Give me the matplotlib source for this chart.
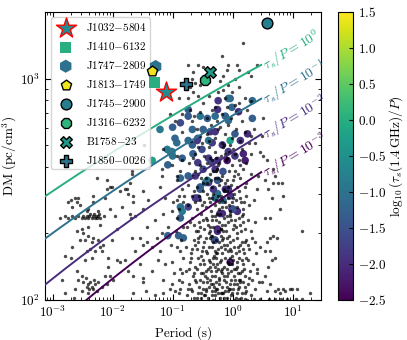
import numpy as np
import matplotlib
matplotlib.use("Agg")
import matplotlib.pyplot as plt
from matplotlib.colors import Normalize
from matplotlib import transforms

plt.rcParams['font.family'] = 'serif'
plt.rcParams['font.serif'] = ['cmr10']
plt.rcParams['mathtext.fontset'] = 'cm'
plt.rcParams['axes.unicode_minus'] = False
plt.rcParams['axes.formatter.use_mathtext'] = True

## background pulsars (log10 P [s], log10 DM)
bg_points = [
    # sparse high-DM part
    (0.17, 3.16), (-0.17, 3.10), (0.41, 3.06), (-0.58, 3.06), (-0.49, 3.05), (-0.74, 3.06),
    (-0.07, 3.06), (0.08, 3.06), (0.10, 3.04), (-0.09, 3.04), (0.04, 3.00), (0.26, 3.03),
    (0.31, 3.01), (-0.21, 2.99), (-0.16, 3.01), (-0.62, 2.98), (-0.54, 2.97), (-0.07, 2.97),
    (-0.71, 2.96), (-0.16, 2.95), (0.10, 2.96), (-0.25, 2.94), (-0.01, 2.94), (-0.66, 2.94),
    (-0.58, 2.92), (-0.40, 2.92), (0.21, 2.91), (-0.12, 2.91), (-0.74, 2.91), (-0.49, 2.89),
    (0.10, 2.89), (0.30, 2.90), (-0.29, 2.87), (0.04, 2.88), (-0.66, 3.03), (-0.67, 3.00),
    (-0.71, 2.86), (-0.84, 2.84), (-0.64, 2.83), (-2.39, 2.73), (-1.68, 2.57), (-2.01, 2.51),
    (-0.90, 2.91),
    # left / middle
    (-1.04, 2.84), (-0.96, 2.81), (-0.84, 2.76), (-1.47, 2.70), (-1.16, 2.68), (-0.93, 2.65),
    (-2.04, 2.63), (-0.84, 2.63), (-1.18, 2.59), (-1.68, 2.58), (-2.26, 2.55), (-2.09, 2.54),
    (-1.18, 2.56), (-0.87, 2.58), (-0.93, 2.54), (-1.71, 2.53), (-0.84, 2.50), (-1.79, 2.50),
    (-1.87, 2.49), (-1.50, 2.49), (-1.21, 2.51), (-2.57, 2.46), (-2.33, 2.47), (-2.12, 2.46),
    (-1.66, 2.47), (-2.70, 2.45), (-2.59, 2.44), (-1.41, 2.45), (-1.13, 2.46), (-0.93, 2.45),
    (-0.90, 2.47), (-0.82, 2.44), (-2.75, 2.44), (-2.62, 2.46), (-2.54, 2.43), (-2.41, 2.41),
    (-2.09, 2.50), (-2.04, 2.51), (-1.76, 2.50), (-1.74, 2.48), (-2.33, 2.44), (-1.66, 2.44),
    (-1.49, 2.41),
    # Terzan 5 streak
    (-2.87, 2.37), (-2.79, 2.38), (-2.74, 2.37), (-2.67, 2.38), (-2.62, 2.37), (-2.57, 2.38),
    (-2.51, 2.37), (-2.49, 2.38), (-2.46, 2.37), (-2.43, 2.38), (-2.41, 2.37), (-2.39, 2.38),
    (-2.37, 2.39), (-2.34, 2.37), (-2.33, 2.38), (-2.31, 2.39), (-2.29, 2.37), (-2.28, 2.38),
    (-2.26, 2.37), (-2.25, 2.38), (-2.23, 2.39), (-2.21, 2.37), (-2.15, 2.38), (-1.96, 2.38),
    (-1.69, 2.37), (-1.62, 2.38),
    # MSPs at low DM
    (-2.67, 2.42), (-2.04, 2.41), (-1.84, 2.42), (-1.71, 2.39), (-2.43, 2.40), (-2.25, 2.40),
    (-2.21, 2.34), (-2.41, 2.33), (-2.51, 2.32), (-2.59, 2.31), (-2.49, 2.30), (-2.41, 2.29),
    (-2.33, 2.28), (-2.54, 2.27), (-2.46, 2.27), (-2.34, 2.26), (-2.25, 2.27), (-2.16, 2.25),
    (-2.21, 2.24), (-2.38, 2.23), (-2.29, 2.22), (-2.18, 2.22), (-2.43, 2.22), (-2.67, 2.24),
    (-2.79, 2.20), (-2.70, 2.19), (-2.46, 2.18), (-2.34, 2.19), (-2.07, 2.19), (-2.01, 2.27),
    (-1.92, 2.32), (-1.68, 2.28), (-1.54, 2.28), (-1.49, 2.25), (-1.42, 2.26), (-1.63, 2.22),
    (-1.34, 2.24), (-1.21, 2.22), (-1.66, 2.11), (-1.50, 2.10), (-1.49, 2.08), (-1.74, 2.13),
    (-1.92, 2.18), (-1.79, 2.18), (-1.87, 2.17), (-2.07, 2.15), (-2.59, 2.13), (-2.51, 2.11),
    (-2.57, 2.09), (-2.49, 2.08), (-2.41, 2.07), (-2.34, 2.06), (-2.29, 2.07), (-2.25, 2.08),
    (-2.43, 2.06), (-2.33, 2.05), (-2.18, 2.06), (-2.09, 2.07), (-2.26, 2.04), (-2.51, 2.04),
    (-2.41, 2.03), (-2.62, 2.05), (-2.79, 2.03), (-2.84, 2.09), (-2.65, 2.01), (-2.04, 2.11),
    (-1.99, 2.09), (-2.12, 2.11), (-2.37, 2.08), (-2.39, 2.05), (-2.31, 2.09), (-2.45, 2.10),
    (-1.26, 2.28), (-1.18, 2.30), (-1.08, 2.33), (-1.29, 2.36), (-1.42, 2.33), (-1.16, 2.39),
    (-1.01, 2.40), (-0.93, 2.37), (-1.24, 2.18), (-1.13, 2.16), (-1.01, 2.17), (-1.34, 2.13),
    (-1.16, 2.09), (-1.01, 2.07), (-0.90, 2.09), (-0.84, 2.12), (-1.66, 2.03), (-1.45, 2.04),
    (-1.29, 2.02), (-1.16, 2.03), (-0.96, 2.04), (-0.87, 2.05), (-1.54, 2.16), (-0.93, 2.24),
    (-0.87, 2.22),
    # long-period side
    (0.51, 2.65), (0.58, 2.63), (0.67, 2.59), (0.71, 2.56), (0.54, 2.54), (0.76, 2.53),
    (0.59, 2.50), (0.66, 2.46), (0.84, 2.47), (0.41, 2.50), (0.43, 2.56), (0.46, 2.67),
    (0.38, 2.71), (0.35, 2.77), (0.30, 2.74), (0.49, 2.74), (0.51, 2.82), (1.16, 2.31),
    (0.54, 2.37), (0.62, 2.37), (0.79, 2.41), (0.67, 2.29), (0.62, 2.28), (0.66, 2.18),
    (0.59, 2.15), (0.54, 2.11), (0.62, 2.07), (0.58, 2.04), (0.71, 2.04), (0.87, 2.04),
    (0.99, 2.05), (0.79, 2.03), (1.29, 2.03), (0.49, 2.08), (0.41, 2.14), (0.46, 2.24),
    (0.38, 2.26), (0.54, 2.22), (0.84, 2.05), (0.76, 2.05), (1.08, 2.05), (0.95, 2.05),
    (0.71, 2.19), (0.62, 2.22), (0.58, 2.26), (0.74, 2.28), (0.82, 2.53), (0.67, 2.53),
    (0.10, 2.005), (0.20, 2.005), (0.35, 2.005), (0.45, 2.005), (0.60, 2.005), (0.70, 2.005),
    (0.80, 2.005), (0.90, 2.005), (1.05, 2.005), (1.16, 2.005),
    # dense core
    (-0.76, 2.02), (-0.72, 2.07), (-0.67, 2.04), (-0.63, 2.09), (-0.60, 2.01), (-0.56, 2.06),
    (-0.52, 2.03), (-0.49, 2.08), (-0.44, 2.05), (-0.41, 2.01), (-0.38, 2.09), (-0.35, 2.04),
    (-0.32, 2.07), (-0.29, 2.02), (-0.26, 2.05), (-0.23, 2.09), (-0.20, 2.03), (-0.17, 2.06),
    (-0.14, 2.01), (-0.11, 2.08), (-0.08, 2.04), (-0.05, 2.07), (-0.02, 2.02), (0.01, 2.05),
    (0.04, 2.09), (0.08, 2.03), (0.11, 2.06), (0.14, 2.01), (0.18, 2.08), (0.22, 2.04),
    (0.26, 2.07), (0.31, 2.02), (0.37, 2.05), (0.44, 2.08),
    (-0.74, 2.05), (-0.65, 2.01), (-0.54, 2.09), (-0.47, 2.02), (-0.39, 2.06), (-0.33, 2.00),
    (-0.27, 2.08), (-0.21, 2.01), (-0.15, 2.09), (-0.09, 2.01), (-0.03, 2.09), (0.03, 2.00),
    (0.10, 2.09), (0.16, 2.03), (0.24, 2.00), (0.33, 2.09), (-0.30, 2.04), (-0.18, 2.03),
    (-0.06, 2.05), (0.07, 2.07), (-0.50, 2.05), (-0.58, 2.03),
    (-0.78, 2.13), (-0.71, 2.17), (-0.66, 2.11), (-0.62, 2.15), (-0.57, 2.19), (-0.53, 2.12),
    (-0.48, 2.16), (-0.43, 2.10), (-0.40, 2.18), (-0.36, 2.13), (-0.33, 2.16), (-0.30, 2.11),
    (-0.27, 2.19), (-0.24, 2.14), (-0.21, 2.17), (-0.18, 2.12), (-0.15, 2.15), (-0.12, 2.19),
    (-0.09, 2.11), (-0.06, 2.16), (-0.03, 2.13), (0.00, 2.18), (0.03, 2.11), (0.07, 2.15),
    (0.10, 2.19), (0.13, 2.12), (0.17, 2.16), (0.21, 2.11), (0.25, 2.18), (0.29, 2.13),
    (0.34, 2.16), (0.40, 2.12),
    (-0.69, 2.19), (-0.59, 2.14), (-0.50, 2.18), (-0.37, 2.15), (-0.28, 2.13), (-0.19, 2.18),
    (-0.10, 2.14), (-0.01, 2.16), (0.09, 2.12), (0.19, 2.14), (0.28, 2.10), (-0.44, 2.13),
    (-0.32, 2.19), (-0.14, 2.11), (-0.04, 2.19), (-0.55, 2.16),
    (-0.77, 2.24), (-0.70, 2.21), (-0.64, 2.27), (-0.59, 2.23), (-0.55, 2.29), (-0.51, 2.22),
    (-0.47, 2.26), (-0.42, 2.21), (-0.38, 2.28), (-0.34, 2.24), (-0.31, 2.20), (-0.27, 2.27),
    (-0.24, 2.23), (-0.20, 2.29), (-0.17, 2.21), (-0.14, 2.25), (-0.10, 2.28), (-0.07, 2.22),
    (-0.04, 2.26), (-0.01, 2.20), (0.03, 2.24), (0.07, 2.28), (0.11, 2.22), (0.15, 2.26),
    (0.19, 2.21), (0.23, 2.27), (0.28, 2.23), (0.33, 2.28), (0.39, 2.21),
    (-0.62, 2.25), (-0.53, 2.20), (-0.40, 2.24), (-0.29, 2.22), (-0.22, 2.26), (-0.12, 2.23),
    (0.01, 2.27), (0.13, 2.25), (0.25, 2.25), (-0.36, 2.29), (-0.16, 2.28), (-0.05, 2.23),
    (-0.76, 2.33), (-0.68, 2.37), (-0.61, 2.31), (-0.56, 2.35), (-0.52, 2.39), (-0.48, 2.32),
    (-0.43, 2.36), (-0.39, 2.30), (-0.35, 2.38), (-0.32, 2.33), (-0.28, 2.36), (-0.25, 2.31),
    (-0.21, 2.39), (-0.18, 2.34), (-0.14, 2.37), (-0.11, 2.31), (-0.07, 2.35), (-0.04, 2.39),
    (0.00, 2.32), (0.04, 2.36), (0.08, 2.30), (0.12, 2.34), (0.16, 2.38), (0.20, 2.32),
    (0.25, 2.36), (0.31, 2.31), (0.37, 2.35),
    (-0.65, 2.34), (-0.50, 2.36), (-0.37, 2.33), (-0.23, 2.35), (-0.09, 2.38), (0.02, 2.34),
    (0.14, 2.31), (-0.30, 2.38), (-0.16, 2.31),
    (-0.75, 2.43), (-0.67, 2.47), (-0.60, 2.41), (-0.54, 2.45), (-0.49, 2.49), (-0.44, 2.42),
    (-0.40, 2.46), (-0.36, 2.40), (-0.32, 2.48), (-0.29, 2.43), (-0.25, 2.47), (-0.22, 2.41),
    (-0.18, 2.45), (-0.15, 2.49), (-0.11, 2.42), (-0.08, 2.46), (-0.04, 2.40), (-0.01, 2.44),
    (0.03, 2.48), (0.08, 2.42), (0.12, 2.46), (0.17, 2.41), (0.22, 2.47), (0.28, 2.43),
    (0.35, 2.45),
    (-0.63, 2.44), (-0.51, 2.43), (-0.38, 2.44), (-0.27, 2.45), (-0.13, 2.44), (0.01, 2.46),
    (0.14, 2.44),
    (-0.74, 2.52), (-0.66, 2.56), (-0.59, 2.51), (-0.53, 2.55), (-0.48, 2.59), (-0.42, 2.53),
    (-0.38, 2.57), (-0.34, 2.51), (-0.30, 2.55), (-0.26, 2.59), (-0.22, 2.52), (-0.18, 2.56),
    (-0.14, 2.50), (-0.10, 2.54), (-0.06, 2.58), (-0.02, 2.52), (0.02, 2.56), (0.07, 2.51),
    (0.12, 2.55), (0.17, 2.59), (0.23, 2.53), (0.30, 2.57),
    (-0.62, 2.58), (-0.45, 2.55), (-0.32, 2.58), (-0.20, 2.54), (-0.08, 2.51), (0.04, 2.58),
    (0.20, 2.51),
    (-0.72, 2.62), (-0.62, 2.66), (-0.54, 2.61), (-0.47, 2.65), (-0.40, 2.69), (-0.35, 2.63),
    (-0.30, 2.67), (-0.25, 2.61), (-0.20, 2.65), (-0.16, 2.69), (-0.11, 2.63), (-0.06, 2.67),
    (-0.01, 2.61), (0.04, 2.66), (0.10, 2.63), (0.16, 2.68), (0.23, 2.62), (0.30, 2.66),
    (-0.58, 2.69), (-0.43, 2.62), (-0.27, 2.64), (-0.13, 2.66), (0.01, 2.68), (0.13, 2.61),
    (-0.70, 2.72), (-0.60, 2.77), (-0.51, 2.71), (-0.43, 2.75), (-0.36, 2.79), (-0.30, 2.73),
    (-0.24, 2.77), (-0.18, 2.71), (-0.12, 2.75), (-0.07, 2.79), (-0.01, 2.73), (0.06, 2.77),
    (0.13, 2.72), (0.20, 2.76), (0.27, 2.71),
    (-0.55, 2.74), (-0.39, 2.72), (-0.21, 2.78), (-0.04, 2.70),
    (-0.67, 2.81), (-0.54, 2.85), (-0.43, 2.82), (-0.34, 2.86), (-0.26, 2.81), (-0.18, 2.84),
    (-0.10, 2.87), (-0.02, 2.82), (0.07, 2.85), (0.16, 2.81), (0.24, 2.86),
    (-0.90, 2.03), (-0.85, 2.08), (-0.88, 2.14), (-0.82, 2.19), (-0.86, 2.27), (-0.83, 2.33),
    (-0.89, 2.41), (-0.81, 2.47), (-0.98, 2.12), (-1.03, 2.25), (-0.95, 2.31), (-1.05, 2.05),
    (-0.99, 2.44), (-0.92, 2.56), (-1.01, 2.61),
    (-0.52, 2.01), (-0.45, 2.04), (-0.42, 2.08), (-0.34, 2.02), (-0.31, 2.06), (-0.25, 2.03),
    (-0.22, 2.07), (-0.13, 2.04), (-0.10, 2.06), (-0.01, 2.03), (0.02, 2.07), (0.09, 2.05),
    (0.13, 2.08), (0.20, 2.06),
    (-0.49, 2.12), (-0.41, 2.14), (-0.35, 2.11), (-0.26, 2.16), (-0.23, 2.10), (-0.17, 2.14),
    (-0.07, 2.12), (0.02, 2.14), (0.15, 2.18), (0.08, 2.17),
    (-0.49, 2.24), (-0.44, 2.28), (-0.33, 2.26), (-0.26, 2.21), (-0.19, 2.24), (-0.09, 2.25),
    (-0.02, 2.22), (0.06, 2.21), (0.17, 2.23), (-0.57, 2.26),
    (-0.54, 2.33), (-0.41, 2.34), (-0.34, 2.36), (-0.26, 2.39), (-0.20, 2.32), (-0.12, 2.34),
    (-0.02, 2.36), (0.10, 2.37), (0.18, 2.35),
    (-0.47, 2.44), (-0.35, 2.46), (-0.23, 2.44), (-0.17, 2.42), (-0.06, 2.43), (0.06, 2.45),
    (0.19, 2.44),
    (-0.50, 2.53), (-0.36, 2.54), (-0.24, 2.55), (-0.12, 2.53), (0.00, 2.54),
    (-0.38, 2.64), (-0.22, 2.62), (-0.09, 2.64),
    (-0.70, 2.05), (-0.61, 2.08), (-0.46, 2.02), (-0.36, 2.07), (-0.28, 2.05), (-0.16, 2.03),
    (-0.04, 2.05), (0.05, 2.01), (0.12, 2.09), (0.20, 2.03),
    (-0.73, 2.14), (-0.64, 2.12), (-0.46, 2.11), (-0.38, 2.17), (-0.29, 2.15), (-0.20, 2.13),
    (-0.08, 2.17), (0.05, 2.14), (0.15, 2.13), (0.23, 2.19),
    (-0.68, 2.23), (-0.58, 2.28), (-0.45, 2.22), (-0.35, 2.29), (-0.28, 2.21), (-0.18, 2.27),
    (-0.06, 2.29), (0.09, 2.24), (0.21, 2.26),
    (-0.71, 2.35), (-0.58, 2.31), (-0.45, 2.37), (-0.37, 2.31), (-0.19, 2.32), (-0.05, 2.38),
    (0.06, 2.33), (0.18, 2.39),
    (-0.65, 2.49), (-0.56, 2.47), (-0.42, 2.48), (-0.20, 2.47), (-0.10, 2.49), (0.10, 2.49),
    (-0.57, 2.57), (-0.28, 2.58), (0.09, 2.57), (-0.66, 2.64), (-0.15, 2.70),
]

## pulsars with measured scattering: (log10 P, log10 DM, log10(tau_s/P))
scat_points = [
    (-1.21, 2.77, -0.9), (-1.00, 2.78, -1.3), (-0.87, 2.80, -1.6), (-0.93, 2.71, -1.1),
    (-1.01, 2.67, -0.9), (-1.00, 2.65, -1.0), (-1.34, 2.63, -0.2), (-1.08, 2.61, -1.3),
    (-0.87, 2.55, -1.2), (-0.74, 2.56, -1.3), (-0.87, 2.42, -1.0), (-0.84, 2.40, -0.9),
    (-0.87, 2.37, -1.3), (-0.74, 2.42, -1.7), (-1.08, 2.29, -1.2), (-0.90, 2.29, -1.3),
    (-0.82, 2.28, -1.2), (-0.58, 2.46, -1.8), (-0.54, 2.50, -1.4), (-0.45, 2.53, -1.1),
    (-0.40, 2.53, -1.9), (-0.25, 2.48, -1.0), (-0.29, 2.46, -1.0), (-0.07, 2.50, -1.9),
    (-0.04, 2.47, -1.8), (-0.17, 2.39, -2.0), (-0.01, 2.41, -2.1), (0.08, 2.40, -2.0),
    (-0.25, 2.32, -2.1), (-0.29, 2.27, -1.5), (-0.04, 2.17, -2.2), (0.01, 2.41, -1.5),
    (-0.74, 2.83, -1.4), (-0.54, 2.83, -1.0), (-0.42, 2.82, -1.3), (-0.29, 2.83, -1.1),
    (-0.25, 2.86, -1.9), (-0.12, 2.83, -1.3), (-0.07, 2.81, -1.1), (0.33, 2.82, -1.3),
    (0.04, 2.75, -1.4), (0.25, 2.75, -2.0), (0.13, 2.72, -1.9), (-0.04, 2.72, -0.2),
    (-0.67, 2.77, -1.2), (-0.49, 2.77, -1.3), (-0.37, 2.76, -1.9), (-0.58, 2.73, -1.3),
    (-0.67, 2.70, -1.3), (-0.74, 2.72, -1.2), (-0.51, 2.68, -1.6), (-0.34, 2.71, -1.8),
    (-0.17, 2.70, -1.9), (-0.07, 2.67, -1.8), (-0.09, 2.63, -2.3), (0.04, 2.65, -1.8),
    (0.18, 2.66, -2.1), (0.21, 2.63, -2.2), (-0.40, 2.64, -1.8), (-0.25, 2.63, -1.9),
    (-0.58, 2.62, -1.8), (-0.49, 2.59, -1.6), (-0.29, 2.59, -1.9), (-0.16, 2.58, -1.5),
    (-0.62, 2.56, -1.8), (-0.42, 2.54, -1.0), (-0.25, 2.54, -1.4), (-0.54, 2.51, -1.3),
    (-0.32, 2.50, -1.8), (-0.12, 2.50, -1.9), (-0.62, 2.46, -1.8), (-0.16, 2.45, -1.1),
    (-0.74, 2.86, -1.3), (-0.04, 2.91, -1.3), (-0.01, 2.87, -1.2), (0.10, 2.85, -2.0),
    (-0.24, 2.90, -1.9), (-0.07, 2.91, -1.1), (0.33, 2.90, -1.1), (-0.29, 2.76, -1.9),
    (-0.40, 2.72, -1.0), (-0.59, 2.72, -1.8), (-0.66, 2.66, -1.3), (-0.84, 2.64, -1.3),
    (-1.04, 2.67, -0.9), (-0.96, 2.73, -1.2), (-1.09, 2.68, -0.9), (-0.34, 2.62, -1.7),
    (-0.30, 2.27, -1.5), (-0.25, 2.31, -2.0), (-0.21, 2.39, -2.0),
]

## highlighted pulsars
names = ['J1032$-$5804', 'J1410$-$6132', 'J1747$-$2809', 'J1813$-$1749',
         'J1745$-$2900', 'J1316$-$6232', 'B1758$-$23', 'J1850$-$0026']
periods = [0.0784, 0.0502, 0.0521, 0.0447, 3.764, 0.343, 0.4158, 0.1667]
dms = [865, 960, 1133, 1087, 1778, 983, 1074, 947]
tau_ratio = [-0.6, 0.0, -1.0, 1.4, -0.8, 0.1, -0.35, -1.0]
markers = ['*', 's', 'h', 'p', 'o', '8', 'X', 'P']
sizes = [230, 60, 90, 60, 60, 60, 70, 70]

cbar_ticks = [-2.5, -2.0, -1.5, -1.0, -0.5, 0.0, 0.5, 1.0, 1.5]
line_levels = [0, -1, -2, -3]

cmap = plt.get_cmap('viridis')
norm = Normalize(vmin=-2.5, vmax=1.5)

fig = plt.figure(figsize=(4.07, 3.40), dpi=100)
ax = fig.add_axes([0.111, 0.118, 0.678, 0.847])
cax = fig.add_axes([0.830, 0.118, 0.037, 0.847])

bg = np.array(bg_points)
sc_arr = np.array(scat_points)

sc = ax.scatter(10**sc_arr[:, 0], 10**sc_arr[:, 1], c=sc_arr[:, 2], cmap=cmap, norm=norm,
                s=30, linewidths=0, zorder=2)
ax.scatter(10**bg[:, 0], 10**bg[:, 1], c='k', s=6, alpha=0.7, linewidths=0, zorder=3)

# scattering lines, Bhat et al. (2004) at 1.4 GHz
c0 = -6.46 - 3.86*np.log10(1.4)
logp = np.linspace(-3.5, 0.477, 200)
for k in line_levels:
    ltau = logp + k + 3.0  # log tau in ms
    x = (-0.154 + np.sqrt(0.154**2 - 4*1.07*(c0 - ltau))) / (2*1.07)
    col = cmap(norm(k))
    ax.plot(10**logp, 10**x, color=col, lw=1.4, zorder=4)
    tr = transforms.offset_copy(ax.transData, fig=fig, x=3, y=-2, units='dots')
    ax.text(10**logp[-1], 10**x[-1], r'$\tau_s/P = 10^{%d}$' % k, color=col, fontsize=10,
            rotation=31, rotation_mode='anchor', ha='left', va='center', transform=tr,
            clip_on=False, zorder=4)

for i in range(len(names)):
    fc = cmap(norm(tau_ratio[i]))
    if markers[i] == '*':
        ec, lw = 'red', 1.0
    elif markers[i] in ('s', 'h'):
        ec, lw = 'none', 0
    else:
        ec, lw = 'k', 1.0
    ax.scatter(periods[i], dms[i], marker=markers[i], s=sizes[i], facecolor=fc,
               edgecolor=ec, linewidths=lw, zorder=6, label=names[i])

ax.set_xscale('log')
ax.set_yscale('log')
ax.set_xlim(7.5e-4, 30)
ax.set_ylim(100, 2000)
ax.set_xlabel('Period (s)', fontsize=9.5)
ax.set_ylabel(r'DM (pc/cm$^3$)', fontsize=9.5, labelpad=1)
ax.tick_params(which='both', direction='in', top=True, right=True, labelsize=9.5)
ax.tick_params(which='major', length=4)
ax.tick_params(which='minor', length=2)

ax.legend(loc='upper left', fontsize=8, labelspacing=0.62, handletextpad=0.8,
          borderpad=0.35, scatterpoints=1, framealpha=0.8, edgecolor='0.8')

cb = fig.colorbar(sc, cax=cax)
cb.set_ticks(cbar_ticks)
cb.set_ticklabels([r'$%.1f$' % t for t in cbar_ticks])
cb.ax.tick_params(direction='in', labelsize=9.5, length=3)
cb.set_label(r'$\log_{10}(\tau_s(1.4\,\mathrm{GHz})/P)$', fontsize=9.5, labelpad=1)

fig.savefig('out.png', dpi=100)
